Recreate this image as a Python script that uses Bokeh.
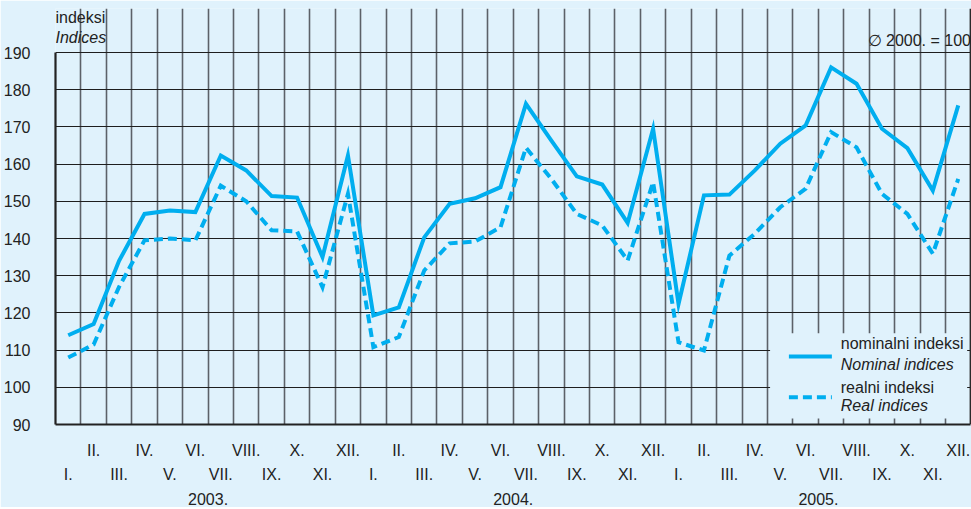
from bokeh.plotting import figure
from bokeh.models import (LinearAxis, FixedTicker, Grid, Range1d, Label)
from bokeh.embed import file_html
from bokeh.resources import INLINE

# ---- data ----
months = ["I.", "II.", "III.", "IV.", "V.", "VI.", "VII.", "VIII.", "IX.", "X.", "XI.", "XII."]
years = ["2003.", "2004.", "2005."]
nominal = [114.0, 117.0, 134.0, 146.6, 147.5, 147.1, 162.3, 158.3, 151.4, 151.0, 135.0, 162.3,
           119.3, 121.5, 140.3, 149.3, 150.8, 153.8, 176.2, 166.3, 156.7, 154.5, 144.2, 169.5,
           122.4, 151.6, 151.8, 158.3, 165.5, 170.4, 186.0, 181.6, 169.5, 164.3, 152.9, 175.8]
real = [108.0, 111.5, 127.0, 139.5, 140.0, 139.5, 154.2, 150.0, 142.2, 141.9, 126.9, 152.0,
        110.8, 113.5, 131.4, 138.7, 139.2, 143.0, 164.4, 156.0, 146.6, 143.5, 134.1, 155.1,
        112.1, 109.9, 135.4, 141.3, 148.4, 153.4, 168.6, 164.5, 152.0, 146.6, 135.9, 156.0]
y_ticks = [90, 100, 110, 120, 130, 140, 150, 160, 170, 180, 190]
legend_labels = ["nominalni indeksi", "Nominal indices", "realni indeksi", "Real indices"]
top_left = ["indeksi", "Indices"]
base_note = "\u2205 2000. = 100"

BG = "#E0F2FC"
LINE = "#00AEEF"
FONT = "Liberation Sans"
FS = "16px"
TXT = "#222222"

n = len(nominal)
xs = [i + 0.5 for i in range(n)]
y_lo, y_hi = y_ticks[0], y_ticks[-1]
PX = 3.72                      # pixels per index point
head = 44 / PX                 # room above the 190 line for the header texts
edge = 0.06                    # keeps the right border line fully inside the frame

p = figure(frame_width=917, frame_height=416, output_backend="svg", toolbar_location=None,
           x_range=Range1d(0, n + edge), y_range=Range1d(y_lo, y_hi + head),
           x_axis_type=None, y_axis_type=None,
           min_border_left=44, min_border_top=8, min_border_right=0, min_border_bottom=60)
p.background_fill_color = BG
p.border_fill_color = BG
p.outline_line_color = None

# grids
vgrid = Grid(dimension=0, ticker=FixedTicker(ticks=list(range(0, n))),
             grid_line_color="#5c6168", grid_line_width=1.6, bounds=(y_lo, y_hi))
hgrid = Grid(dimension=1, ticker=FixedTicker(ticks=y_ticks),
             grid_line_color="#1e1e1e", grid_line_width=1.0, bounds=(0, n))
edge_grid = Grid(dimension=0, ticker=FixedTicker(ticks=[n]),
                 grid_line_color="#2a2a2a", grid_line_width=1.8, bounds=(y_lo, y_hi))
p.add_layout(vgrid)
p.add_layout(hgrid)

# y axis
yax = LinearAxis(ticker=FixedTicker(ticks=y_ticks), bounds=(y_lo, y_hi))
yax.axis_line_color = "#222222"
yax.axis_line_width = 2.2
yax.major_tick_line_color = None
yax.minor_tick_line_color = None
yax.major_label_standoff = 19
yax.major_label_text_font = FONT
yax.major_label_text_font_size = FS
yax.major_label_text_color = TXT
p.add_layout(yax, "left")

# x axes: even months row, odd months row, year row
even_ticks = [i + 0.5 for i in range(n) if i % 2 == 1]
odd_ticks = [i + 0.5 for i in range(n) if i % 2 == 0]
year_ticks = [6 + 12 * k for k in range(len(years))]

def mk_axis(ticks, labels, standoff, line=False):
    ax = LinearAxis(ticker=FixedTicker(ticks=ticks), bounds=(0, n))
    ax.major_label_overrides = {t: l for t, l in zip(ticks, labels)}
    ax.major_tick_line_color = None
    ax.minor_tick_line_color = None
    if line:
        ax.axis_line_color = "#222222"
        ax.axis_line_width = 2.2
    else:
        ax.axis_line_color = None
    ax.major_label_standoff = standoff
    ax.major_label_text_font = FONT
    ax.major_label_text_font_size = FS
    ax.major_label_text_color = TXT
    return ax

ax1 = mk_axis(even_ticks, [months[int(t - 0.5) % 12] for t in even_ticks], 11, line=True)
ax2 = mk_axis(odd_ticks, [months[int(t - 0.5) % 12] for t in odd_ticks], -2)
ax3 = mk_axis(year_ticks, years, 1)
p.add_layout(ax1, "below")
p.add_layout(ax2, "below")
p.add_layout(ax3, "below")

# series
p.line(xs, nominal, line_color=LINE, line_width=4, line_join="miter")
p.line(xs, real, line_color=LINE, line_width=4, line_dash="9 5", line_join="miter")

# legend (custom, two-language labels): background panel, keys, texts
p.quad(left=28.1, right=35.85, bottom=91.6, top=114.5, fill_color=BG, line_color=None)
p.segment(x0=28.84, y0=108.3, x1=30.53, y1=108.3, line_color=LINE, line_width=4)
p.segment(x0=28.84, y0=97.3, x1=30.53, y1=97.3, line_color=LINE, line_width=4, line_dash="9 5")
p.add_layout(edge_grid)
for txt, yy, st in zip(legend_labels, [111.8, 106.1, 100.0, 95.1],
                       ["normal", "italic", "normal", "italic"]):
    p.add_layout(Label(x=30.88, y=yy, text=txt, text_font=FONT, text_font_size=FS,
                       text_font_style=st, text_color=TXT, text_baseline="middle"))

# header texts
p.add_layout(Label(x=0, y=y_hi + 35 / PX, text=top_left[0], text_font=FONT, text_font_size=FS,
                   text_color=TXT, text_baseline="middle"))
p.add_layout(Label(x=0, y=y_hi + 15 / PX, text=top_left[1], text_font=FONT, text_font_size=FS,
                   text_font_style="italic", text_color=TXT, text_baseline="middle"))
p.add_layout(Label(x=n, y=y_hi + 12 / PX, text=base_note, text_font=FONT, text_font_size=FS,
                   text_color=TXT, text_baseline="middle", text_align="right"))

open("out.html", "w").write(file_html(p, INLINE))
